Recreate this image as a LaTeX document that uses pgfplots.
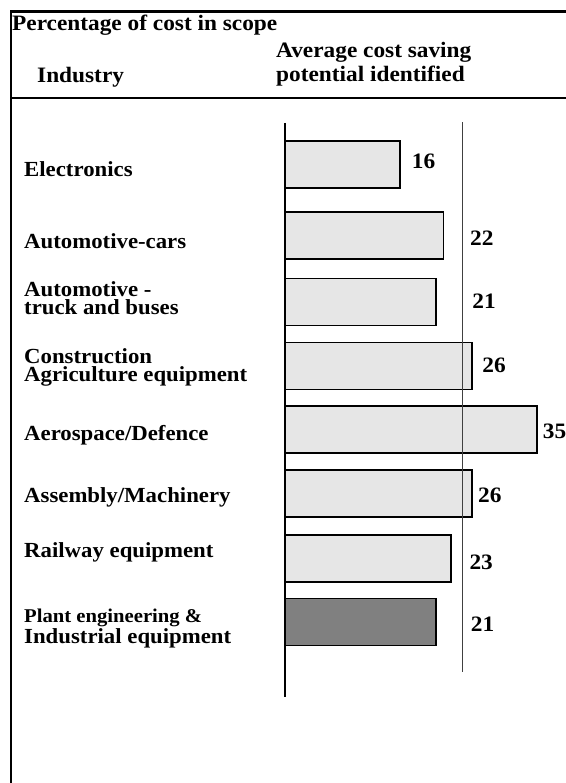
\documentclass[border=0pt]{standalone}
\usepackage{fontspec}
\setmainfont{Liberation Serif}[FakeStretch=1.06]
\usepackage{pgfplots}
\pgfplotsset{compat=1.18}
\usepackage{pgfplotstable}

\definecolor{lightbar}{HTML}{E6E6E6}
\definecolor{darkbar}{HTML}{808080}

\pgfplotstableread{
x y
16 0
22 1.086
21 2.104
26 3.083
35 4.055
26 5.034
23 6.029
}\lightbars
\pgfplotstableread{
x y
21 7.0
}\darkbars
\pgfplotstableread{
x y label
17.6 -0.054 16
25.7 1.125 22
26.0 2.089 21
27.4 3.068 26
35.8 4.079 35
26.8 5.058 26
25.6 6.083 23
25.8 7.032 21
}\valuelabels

\begin{document}
\begin{tikzpicture}
\useasboundingbox (0pt,0pt) rectangle (565pt,783pt);
% frame
\draw[line width=2.5pt] (11pt,0pt) -- (11pt,771.5pt) -- (566pt,771.5pt);
\draw[line width=2pt] (11pt,685pt) -- (566pt,685pt);
% header
\node[anchor=base west, inner sep=0pt, font=\bfseries\fontsize{22}{24}\selectfont] at (12pt,752pt) {Percentage of cost in scope};
\node[anchor=base west, inner sep=0pt, font=\bfseries\fontsize{22}{24}\selectfont] at (276pt,725pt) {Average cost saving};
\node[anchor=base west, inner sep=0pt, font=\bfseries\fontsize{22}{24}\selectfont] at (276pt,701pt) {potential identified};
\node[anchor=base west, inner sep=0pt, font=\bfseries\fontsize{22}{24}\selectfont] at (37pt,700pt) {Industry};

\begin{axis}[
  at={(285pt,86pt)}, anchor=south west,
  scale only axis,
  width=273.6pt, height=574pt,
  xmin=0, xmax=38,
  ymin=-0.635, ymax=8.148,
  y dir=reverse,
  clip=false,
  axis x line=none,
  axis y line=left,
  axis line style={-, line width=1.3pt, black},
  major tick length=0pt,
  ytick={0.069,1.17,2.04,3.10,4.15,5.10,5.93,7.10},
  yticklabels={
    Electronics,
    Automotive-cars,
    {Automotive -\\truck and buses},
    {Construction\\Agriculture equipment},
    Aerospace/Defence,
    Assembly/Machinery,
    Railway equipment,
    {\fontsize{19.5}{20}\selectfont Plant engineering \&\\Industrial equipment}
  },
  yticklabel style={anchor=west, align=left, inner sep=0pt, xshift=-261pt,
    font=\bfseries\fontsize{21.5}{18}\selectfont},
]
\addplot[xbar, bar width=47pt, bar shift=0pt, fill=lightbar, draw=black, line width=1.8pt]
  table[x=x, y=y] {\lightbars};
\addplot[xbar, bar width=47pt, bar shift=0pt, fill=darkbar, draw=black, line width=1.8pt]
  table[x=x, y=y] {\darkbars};
\addplot[black!75, line width=0.9pt] coordinates {(24.6,-0.65) (24.6,7.766)};
\addplot[draw=none, mark=none, nodes near coords, point meta=explicit symbolic,
  every node near coord/.append style={anchor=west, inner sep=0pt,
    font=\bfseries\fontsize{22}{24}\selectfont}]
  table[x=x, y=y, meta=label] {\valuelabels};
\end{axis}
\end{tikzpicture}
\end{document}
